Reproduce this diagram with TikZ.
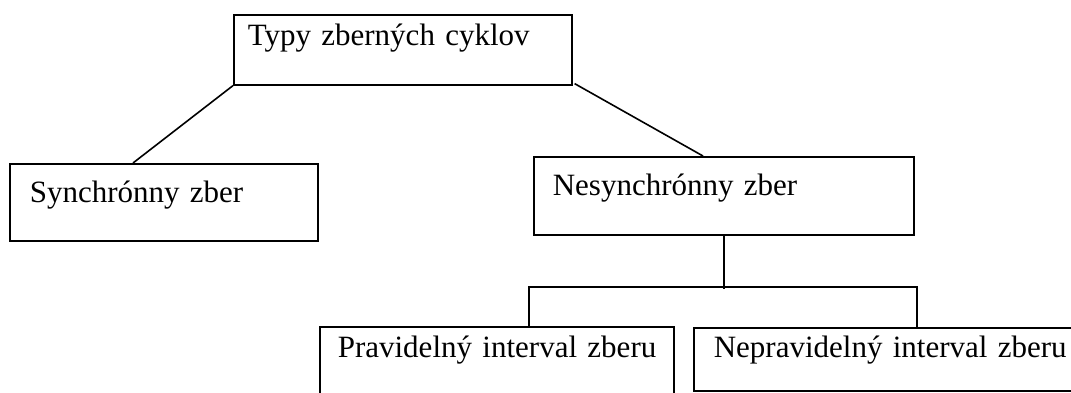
\documentclass[tikz,border=0pt]{standalone}
\usepackage{fontspec}
\setmainfont{Liberation Serif}
\usepackage{tikz}

\begin{document}
\begin{tikzpicture}
        [x=1pt,y=-1pt,line width=1.6pt,
         every node/.style={font=\fontsize{31}{37}\selectfont},
         box/.style={draw,anchor=north west,align=left,inner ysep=0pt}]
        \useasboundingbox (0,0) rectangle (1071,392);

        \node[box,inner xsep=14pt,text width=310pt,text height=31pt,text depth=39pt] (typy) at (233,14) {Typy zberných cyklov};
        \node[box,inner xsep=20pt,text width=268pt,text height=39pt,text depth=38pt] (sync) at (9,163) {Synchrónny zber};
        \node[box,inner xsep=19pt,text width=342pt,text height=39pt,text depth=39pt] (nesync) at (533,156) {Nesynchrónny zber};
        \node[box,inner xsep=18pt,text width=318pt,text height=31pt,text depth=40pt] (prav) at (319,326) {\mbox{Pravidelný interval zberu}};
        \node[box,inner xsep=20pt,text width=370pt,text height=30pt,text depth=33pt] (neprav) at (693,327) {\mbox{Nepravidelný interval zberu}};

        \draw (typy.south west) -- ([xshift=124pt]sync.north west);
        \draw ([xshift=2pt,yshift=2pt]typy.south east) -- ([xshift=170pt]nesync.north west);

        \coordinate (fork) at ([yshift=-53pt]nesync.south);
        \draw (nesync.south) -- (fork);
        \draw ([xshift=210pt]prav.north west) -- ++(0,-39) -| ([xshift=224pt]neprav.north west);

\end{tikzpicture}
\end{document}
